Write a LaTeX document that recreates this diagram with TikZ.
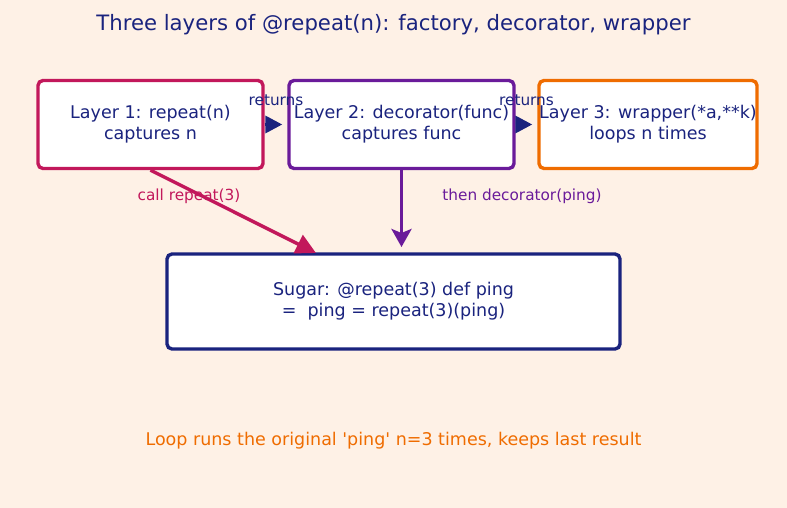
\documentclass[tikz,border=0pt]{standalone}
\usepackage{fontspec}
\setmainfont{DejaVu Sans}
\usepackage{xcolor}
\usepackage{tikz}
\usetikzlibrary{arrows.meta,positioning}
\definecolor{bgpeach}{HTML}{FEF1E6}
\definecolor{navy}{HTML}{1A237E}
\definecolor{crimson}{HTML}{C2185B}
\definecolor{grape}{HTML}{6A1B9A}
\definecolor{amber}{HTML}{EF6C00}
\tikzset{
  layer/.style={draw, rounded corners=5pt, line width=3.4pt, fill=white, align=center, text=navy, inner sep=0pt,
    font=\fontsize{17.5}{21}\selectfont, minimum width=225pt, minimum height=88pt},
  note/.style={font=\fontsize{15.3}{18}\selectfont},
  link/.style={-{Triangle[length=17pt,width=17pt]}, line width=3.4pt},
  drop/.style={-{Stealth[length=18pt,width=20pt,inset=4pt]}, line width=3.4pt}
}
\begin{document}
\begin{tikzpicture}[x=1pt, y=-1pt]
    % Background
    \fill[bgpeach] (0,0) rectangle (787,508);
    \useasboundingbox (0,0) rectangle (787,508);
    % Title
    \node[text=navy, font=\fontsize{21.2}{25}\selectfont] (title) at (393.5,25) {Three layers of @repeat(n): factory, decorator, wrapper};
    % Layers
    \node[layer, draw=crimson] (factory) at (150.5,124.5) {Layer 1: repeat(n)\\captures n};
    \node[layer, draw=grape] (deco) at (401.5,124.5) {Layer 2: decorator(func)\\captures func};
    \node[layer, draw=amber, minimum width=218pt] (wrap) at (648,124.5) {Layer 3: wrapper(*a,**k)\\loops n times};
    % Sugar
    \node[layer, draw=navy, minimum width=453pt, minimum height=95pt] (sugar) at (393.5,301.5) {Sugar: @repeat(3) def ping\\=\ \ ping = repeat(3)(ping)};
    % Returns
    \draw[link, navy, shorten >=5pt] (factory.east) -- (deco.west) node[midway, above=14pt, note] {returns};
    \draw[link, navy, shorten >=5pt] (deco.east) -- (wrap.west) node[midway, above=14pt, note] {returns};
    % Down arrows
    \coordinate (hit) at (316,253);
    \draw[-{Triangle[length=20pt,width=20pt]}, line width=3.4pt, crimson] (factory.south) -- (hit);
    \node[note, text=crimson] (call) at (189,196) {call repeat(3)};
    \coordinate (land) at (401.5,247);
    \draw[drop, grape] (deco.south) -- (land);
    \node[note, text=grape] (then) at (522,196) {then decorator(ping)};
    % Footer
    \node[text=amber, font=\fontsize{17.5}{21}\selectfont] (foot) at (393.5,441) {Loop runs the original \textquotesingle ping\textquotesingle{} n=3 times, keeps last result};
  \end{tikzpicture}
\end{document}
